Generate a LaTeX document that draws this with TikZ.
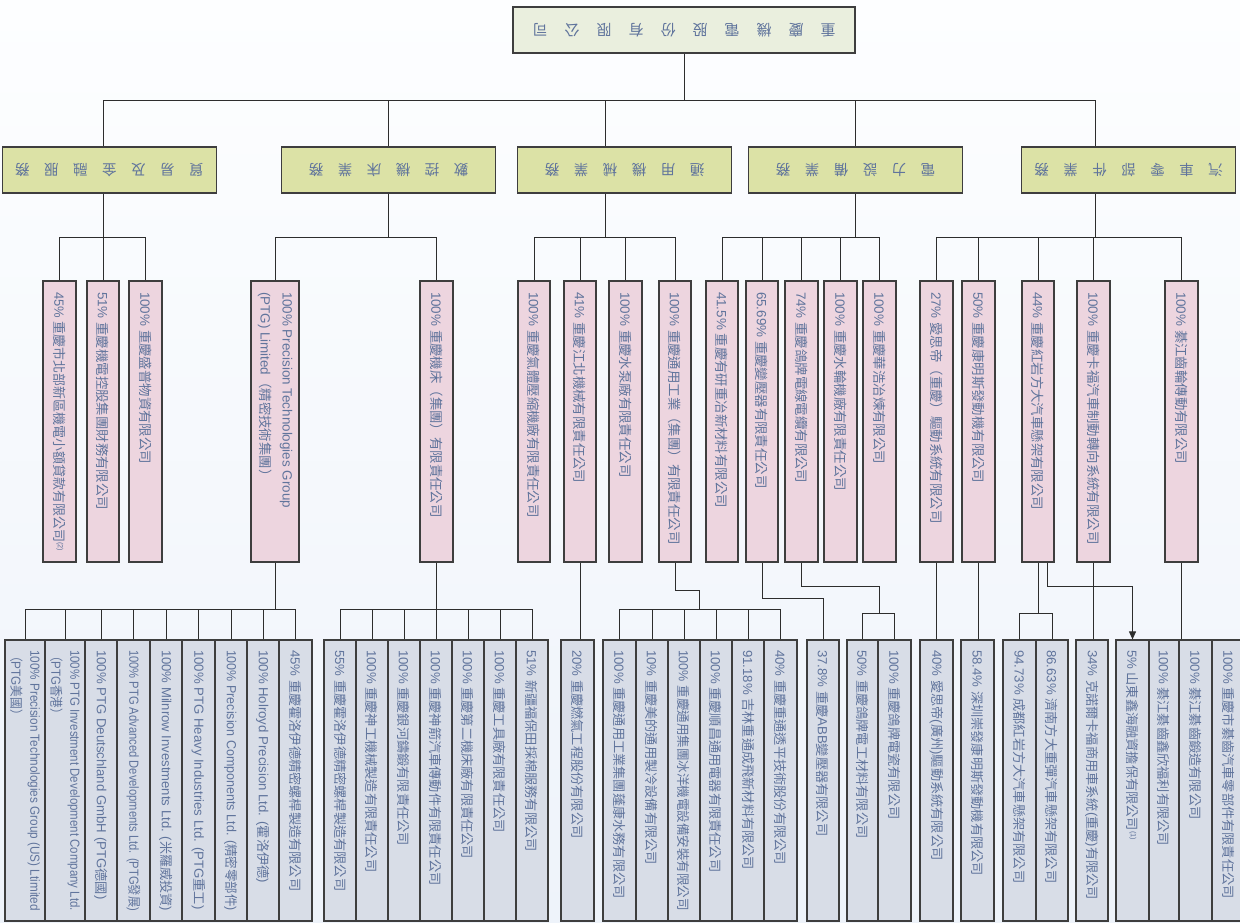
\documentclass[tikz,border=0pt]{standalone}
\usepackage{fontspec}
\usepackage{graphicx}
\usetikzlibrary{arrows.meta}
\setmainfont{Liberation Sans}
\newfontfamily\cjkf{Noto Sans CJK TC}
\newcommand\zh[1]{{\cjkf #1}}
\newcommand\supn[1]{\raisebox{3.5pt}{\fontsize{7.5}{8}\selectfont #1}}
\newsavebox\tbx
\newcommand\vt[2]{\sbox\tbx{#2}\ifdim\wd\tbx>#1\relax\sbox\tbx{\resizebox{#1}{\height}{\usebox\tbx}}\fi\rotatebox{-90}{\makebox[#1][l]{\usebox\tbx}}}
\newcommand\twol[3][19pt]{\vbox{\baselineskip=#1\relax\hbox{#2}\hbox{#3}}}
\makeatletter
\newcommand\spaced[2]{\@tfor\sptok:=#2\do{\makebox[#1]{\sptok}}}
\makeatother
\definecolor{bgtop}{RGB}{253,254,255}
\definecolor{bgbot}{RGB}{238,243,250}
\definecolor{topfill}{RGB}{234,239,222}
\definecolor{l2fill}{RGB}{220,226,166}
\definecolor{l3fill}{RGB}{237,213,223}
\definecolor{l4fill}{RGB}{216,221,231}
\definecolor{txtc}{RGB}{96,116,156}
\definecolor{bordc}{RGB}{62,62,62}
\definecolor{lc}{RGB}{45,45,45}
\tikzset{
  boxbase/.style={draw=bordc, line width=1.2pt, inner sep=0pt, text=txtc},
  topbox/.style={boxbase, fill=topfill, minimum width=342pt, minimum height=46pt, font=\fontsize{15}{18}\selectfont},
  lvtwo/.style={boxbase, fill=l2fill, minimum width=214pt, minimum height=46pt, font=\fontsize{14.5}{17}\selectfont},
  lvthree/.style={boxbase, fill=l3fill, minimum height=281pt, font=\fontsize{13.4}{16}\selectfont},
  lvfour/.style={boxbase, fill=l4fill, minimum height=281pt, font=\fontsize{13.2}{16}\selectfont},
  conn/.style={draw=lc, line width=1pt},
}
\newcommand\LIII[4]{\node[lvthree, minimum width={(#3-#2)*1pt}] (#1) at ({(#2+#3)/2},421.5) {\vt{259pt}{#4}};}
\newcommand\LIV[4]{\node[lvfour, minimum width={(#3-#2)*1pt}] (#1) at ({(#2+#3)/2},780.5) {\vt{261pt}{#4}};}
\newcommand\LII[3]{\node[lvtwo] (#1) at (#2,170) {\rotatebox{180}{\zh{\spaced{29pt}{#3}}}};}
\begin{document}
\begin{tikzpicture}[x=1pt,y=-1pt]
\fill[top color=bgtop,bottom color=bgbot] (0,0) rectangle (1240,922);
\useasboundingbox (0,0) rectangle (1240,922);
% top
\node[topbox] (top) at (684,30) {\rotatebox{180}{\zh{\spaced{32pt}{重慶機電股份有限公司}}}};
% level 2
\LII{La}{109.4}{貿易及金融服務}
\LII{Lb}{388.5}{數控機床業務}
\LII{Lc}{624.6}{通用機械業務}
\LII{Ld}{855.5}{電力設備業務}
\LII{Le}{1128.7}{汽車零部件業務}
% level 3
\LIII{a1}{43}{76}{45\% \zh{重慶市北部新區機電小額貸款有限公司}\supn{(2)}}
\LIII{a2}{87}{119}{51\% \zh{重慶機電控股集團財務有限公司}}
\LIII{a3}{129}{162}{100\% \zh{重慶盛普物資有限公司}}
\LIII{b1}{251}{299}{\twol[22pt]{100\% Precision Technologies Group}{(PTG) Limited\zh{（精密技術集團）}}}
\LIII{b2}{420}{453}{100\% \zh{重慶機床（集團）有限責任公司}}
\LIII{c1}{518}{550}{100\% \zh{重慶氣體壓縮機廠有限責任公司}}
\LIII{c2}{564}{596}{41\% \zh{重慶江北機械有限責任公司}}
\LIII{c3}{609}{642}{100\% \zh{重慶水泵廠有限責任公司}}
\LIII{c4}{659}{691}{100\% \zh{重慶通用工業（集團）有限責任公司}}
\LIII{d1}{706}{738}{41.5\% \zh{重慶有研重冶新材料有限公司}}
\LIII{d2}{746}{778}{65.69\% \zh{重慶變壓器有限責任公司}}
\LIII{d3}{785}{818}{74\% \zh{重慶鴿牌電線電纜有限公司}}
\LIII{d4}{824}{857}{100\% \zh{重慶水輪機廠有限責任公司}}
\LIII{d5}{863}{896}{100\% \zh{重慶華浩冶煉有限公司}}
\LIII{e1}{920}{953}{27\% \zh{愛思帝（重慶）驅動系統有限公司}}
\LIII{e2}{962}{995}{50\% \zh{重慶康明斯發動機有限公司}}
\LIII{e3}{1022}{1054}{44\% \zh{重慶紅岩方大汽車懸架有限公司}}
\LIII{e4}{1077}{1110}{100\% \zh{重慶卡福汽車制動轉向系統有限公司}}
\LIII{e5}{1165}{1198}{100\% \zh{綦江齒輪傳動有限公司}}
% level 4
\LIV{f1}{5}{45}{\twol{100\% Precision Technologies Group (US) Ltimited}{\zh{（}PTG\zh{美國）}}}
\LIV{f2}{45}{85}{\twol{100\% PTG Investment Development Company Ltd.}{\zh{（}PTG\zh{香港）}}}
\LIV{f3}{85}{117}{100\% PTG Deutschland GmbH (PTG\zh{德國})}
\LIV{f4}{117}{150}{100\% PTG Advanced Developments Ltd. (PTG\zh{發展})}
\LIV{f5}{150}{182}{100\% Milnrow Investments Ltd. (\zh{米羅威投資})}
\LIV{f6}{182}{215}{100\% PTG Heavy Industries Ltd. (PTG\zh{重工})}
\LIV{f7}{215}{247}{100\% Precision Components Ltd. (\zh{精密零部件})}
\LIV{f8}{247}{279}{100\% Holroyd Precision Ltd. (\zh{霍洛伊德})}
\LIV{f9}{279}{312}{45\% \zh{重慶霍洛伊德精密螺桿製造有限公司}}
\LIV{g1}{324}{356}{55\% \zh{重慶霍洛伊德精密螺桿製造有限公司}}
\LIV{g2}{356}{388}{100\% \zh{重慶神工機械製造有限責任公司}}
\LIV{g3}{388}{420}{100\% \zh{重慶銀河鑄鍛有限責任公司}}
\LIV{g4}{420}{452}{100\% \zh{重慶神箭汽車傳動件有限責任公司}}
\LIV{g5}{452}{484}{100\% \zh{重慶第二機床廠有限責任公司}}
\LIV{g6}{484}{516}{100\% \zh{重慶工具廠有限責任公司}}
\LIV{g7}{516}{548}{51\% \zh{新疆福保田採棉服務有限公司}}
\LIV{h0}{561}{594}{20\% \zh{重慶燃氣工程股份有限公司}}
\LIV{h1}{603}{636}{100\% \zh{重慶通用工業集團蓬康水務有限公司}}
\LIV{h2}{636}{668}{10\% \zh{重慶美的通用製冷設備有限公司}}
\LIV{h3}{668}{700}{100\% \zh{重慶通用集團冰洋機電設備安裝有限公司}}
\LIV{h4}{700}{732}{100\% \zh{重慶順昌通用電器有限責任公司}}
\LIV{h5}{732}{764}{91.18\% \zh{吉林重通成飛新材料有限公司}}
\LIV{h6}{764}{797}{40\% \zh{重慶重通透平技術股份有限公司}}
\LIV{i1}{807}{839}{37.8\% \zh{重慶}ABB\zh{變壓器有限公司}}
\LIV{i2}{847}{878}{50\% \zh{重慶鴿牌電工材料有限公司}}
\LIV{i3}{878}{911}{100\% \zh{重慶鴿牌電瓷有限公司}}
\LIV{j1}{920}{953}{40\% \zh{愛思帝}(\zh{廣州})\zh{驅動系統有限公司}}
\LIV{j2}{961}{994}{58.4\% \zh{深圳崇發康明斯發動機有限公司}}
\LIV{j3}{1003}{1036}{94.73\% \zh{成都紅岩方大汽車懸架有限公司}}
\LIV{j4}{1036}{1068}{86.63\% \zh{濟南方大重彈汽車懸架有限公司}}
\LIV{j5}{1076}{1108}{34\% \zh{克諾爾卡福商用車系統}(\zh{重慶})\zh{有限公司}}
\LIV{j6}{1116}{1149}{5\% \zh{山東鑫海融資擔保有限公司}\supn{(1)}}
\LIV{j7}{1149}{1179}{100\% \zh{綦江綦齒鑫欣福利有限公司}}
\LIV{j8}{1179}{1212}{100\% \zh{綦江綦齒鍛造有限公司}}
\LIV{j9}{1212}{1245}{100\% \zh{重慶市綦齒汽車零部件有限責任公司}}
% coordinates
\coordinate (ybus) at (0,100);
\coordinate (y3) at (0,237);
\coordinate (y4) at (0,609);
\coordinate (y4b) at (0,613);
\coordinate (yA) at (0,590);
\coordinate (yB) at (0,598);
\coordinate (yC) at (0,586);
\coordinate (va) at (103,0);
\coordinate (vb) at (388,0);
\coordinate (vc) at (605,0);
\coordinate (vd) at (855,0);
\coordinate (ve) at (1095,0);
\coordinate (vh) at (699,0);
\coordinate (vi) at (879,0);
\coordinate (vj) at (1047,0);
% connectors top -> level 2
\draw[conn] (top.south) -- (top.south |- ybus);
\draw[conn] (va |- ybus) -- (ve |- ybus);
\foreach \nn/\vv in {La/va,Lb/vb,Lc/vc,Ld/vd,Le/ve}{
  \draw[conn] (\vv |- ybus) -- (\nn.north -| \vv);
  \draw[conn] (\nn.south -| \vv) -- (\vv |- y3);
}
% level 3 buses
\draw[conn] (a1.north |- y3) -- (a3.north |- y3);
\draw[conn] (b1.north |- y3) -- (b2.north |- y3);
\draw[conn] (c1.north |- y3) -- (c4.north |- y3);
\draw[conn] (d1.north |- y3) -- (d5.north |- y3);
\draw[conn] (e1.north |- y3) -- (e5.north |- y3);
\foreach \nn in {a1,a2,a3,b1,b2,c1,c2,c3,c4,d1,d2,d3,d4,d5,e1,e2,e3,e4,e5}
  \draw[conn] (\nn.north) -- (\nn.north |- y3);
% level 4
\draw[conn] (b1.south) -- (b1.south |- y4);
\draw[conn] (f1.north |- y4) -- (f9.north |- y4);
\draw[conn] (b2.south) -- (b2.south |- y4);
\draw[conn] (g1.north |- y4) -- (g7.north |- y4);
\draw[conn] (c2.south) -- (c2.south |- h0.north);
\draw[conn] (c4.south) |- (vh |- yA) -- (vh |- y4);
\draw[conn] (h1.north |- y4) -- (h6.north |- y4);
\foreach \nn in {f1,f2,f3,f4,f5,f6,f7,f8,f9,g1,g2,g3,g4,g5,g6,g7,h1,h2,h3,h4,h5,h6}
  \draw[conn] (\nn.north) -- (\nn.north |- y4);
\draw[conn] (d2.south) |- (i1.north |- yB) -- (i1.north);
\draw[conn] (d3.south) |- (vi |- yC) -- (vi |- y4b);
\draw[conn] (i2.north |- y4b) -- (i3.north |- y4b);
\draw[conn] (e1.south) -- (e1.south |- j1.north);
\draw[conn] (e2.south) -- (e2.south |- j2.north);
\draw[conn] (e3.south) -- (e3.south |- y4b);
\draw[conn] (j3.north |- y4b) -- (j4.north |- y4b);
\foreach \nn in {i2,i3,j3,j4}
  \draw[conn] (\nn.north) -- (\nn.north |- y4b);
\draw[conn,-{Triangle[width=7pt,length=8pt]}] (e3.south -| vj) |- (j6.north |- yC) -- (j6.north);
\draw[conn] (e4.south) -- (e4.south |- j5.north);
\draw[conn] (e5.south) -- (e5.south |- j8.north);
\end{tikzpicture}
\end{document}
